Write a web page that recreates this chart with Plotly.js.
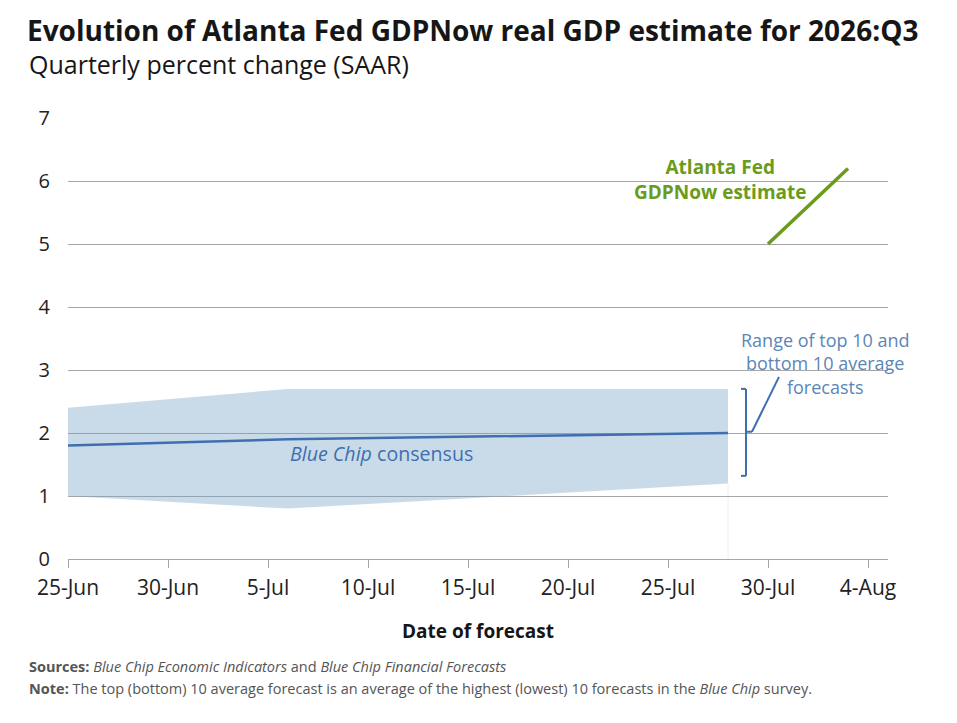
<!DOCTYPE html>
<html>
<head>
<meta charset="utf-8">
<script src="https://cdn.plot.ly/plotly-3.0.1.min.js"></script>
<style>
  html, body { margin: 0; padding: 0; background: #ffffff; }
  #chart { width: 957px; height: 723px; }
</style>
</head>
<body>
<div id="chart"></div>
<script>
// ---- Data ----
const surveyDates   = ['2026-06-25', '2026-07-06', '2026-07-28'];
const consensus     = [1.8, 1.9, 2.0];
const top10Avg      = [2.4, 2.7, 2.7];
const bottom10Avg   = [1.0, 0.8, 1.2];

const gdpNowDates   = ['2026-07-30', '2026-08-03'];
const gdpNowValues  = [5.0, 6.2];

const tickDates  = ['2026-06-25','2026-06-30','2026-07-05','2026-07-10','2026-07-15','2026-07-20','2026-07-25','2026-07-30','2026-08-04'];
const tickLabels = ['25-Jun','30-Jun','5-Jul','10-Jul','15-Jul','20-Jul','25-Jul','30-Jul','4-Aug'];
const yTicks     = [0, 1, 2, 3, 4, 5, 6, 7];

// ---- Styles ----
const gridCol   = '#a6a6a6';
const bandFill  = 'rgba(120,165,200,0.4)';
const blueLine  = '#3f6fae';
const greenLine = '#6a9b1a';
const rangeBlue = '#5a86b8';
const baseFont  = '"Open Sans", Roboto, sans-serif';

const traces = [
  {
    x: surveyDates, y: bottom10Avg, type: 'scatter', mode: 'lines',
    line: { width: 0, color: 'rgba(0,0,0,0)' }, hoverinfo: 'skip', showlegend: false
  },
  {
    x: surveyDates, y: top10Avg, type: 'scatter', mode: 'lines',
    fill: 'tonexty', fillcolor: bandFill,
    line: { width: 0, color: 'rgba(0,0,0,0)' }, hoverinfo: 'skip', showlegend: false
  },
  {
    x: surveyDates, y: consensus, type: 'scatter', mode: 'lines',
    line: { width: 2.5, color: blueLine }, showlegend: false
  },
  {
    x: gdpNowDates, y: gdpNowValues, type: 'scatter', mode: 'lines',
    line: { width: 3.5, color: greenLine }, showlegend: false
  }
];

const lastDate = surveyDates[surveyDates.length - 1];

// bracket helper points (annotation graphics)
const bL = '2026-07-28 15:36', bR = '2026-07-28 21:36', bN = '2026-07-29 04:48', bE = '2026-07-30 13:12';
const bracket = (x0, y0, x1, y1) => ({
  type: 'line', xref: 'x', yref: 'y', x0: x0, y0: y0, x1: x1, y1: y1,
  line: { color: blueLine, width: 2 }
});

const layout = {
  width: 957, height: 723,
  paper_bgcolor: '#ffffff', plot_bgcolor: '#ffffff',
  margin: { l: 68, r: 69, t: 118, b: 164 },
  font: { family: baseFont, color: '#222222' },
  title: {
    text: '<b>Evolution of Atlanta Fed GDPNow real GDP estimate for 2026:Q3</b>',
    font: { family: baseFont, size: 28, color: '#161616' },
    xref: 'container', yref: 'container',
    x: 27/957, xanchor: 'left', y: 1 - 31/723, yanchor: 'middle'
  },
  xaxis: {
    type: 'date',
    range: ['2026-06-25', '2026-08-05'],
    tickmode: 'array', tickvals: tickDates, ticktext: tickLabels,
    tickfont: { family: baseFont, size: 21, color: '#222222' },
    ticks: 'outside', ticklen: 8, tickcolor: gridCol, tickwidth: 1,
    ticklabelstandoff: 2,
    showline: true, linecolor: gridCol, linewidth: 1,
    showgrid: false, zeroline: false, fixedrange: true,
    title: {
      text: '<b>Date of forecast</b>',
      font: { family: baseFont, size: 19, color: '#161616' },
      standoff: 24
    }
  },
  yaxis: {
    range: [0, 7],
    tickmode: 'array', tickvals: yTicks,
    tickfont: { family: baseFont, size: 20, color: '#222222' },
    ticks: '', ticklabelstandoff: 17,
    showgrid: true, gridcolor: gridCol, gridwidth: 1,
    zeroline: false, showline: false, fixedrange: true
  },
  shapes: [
    { type: 'line', xref: 'x', yref: 'y', x0: lastDate, x1: lastDate, y0: 0, y1: 1.2,
      line: { color: '#f0f0f0', width: 1 }, layer: 'below' },
    bracket(bL, 2.70, bR, 2.70),
    bracket(bR, 2.70, bR, 1.32),
    bracket(bR, 1.32, bL, 1.32),
    bracket(bR, 2.02, bN, 2.02),
    bracket(bN, 2.02, bE, 2.89)
  ],
  annotations: [
    { xref: 'paper', yref: 'paper', x: (27 - 68) / 820, y: (559 - 64) / 441,
      xanchor: 'left', yanchor: 'middle', showarrow: false,
      text: 'Quarterly percent change (SAAR)',
      font: { family: baseFont, size: 25, color: '#161616' } },
    { xref: 'x', yref: 'y', x: '2026-07-27 14:24', y: 6.03,
      xanchor: 'center', yanchor: 'middle', showarrow: false, align: 'center',
      text: '<b>Atlanta Fed<br>GDPNow estimate</b>',
      font: { family: baseFont, size: 19, color: greenLine } },
    { xref: 'x', yref: 'y', x: '2026-08-01 20:24', y: 3.11,
      xanchor: 'center', yanchor: 'middle', showarrow: false, align: 'center',
      text: 'Range of top 10 and<br>bottom 10 average<br>forecasts',
      font: { family: baseFont, size: 18, color: rangeBlue } },
    { xref: 'x', yref: 'y', x: '2026-07-06', y: 1.67,
      xanchor: 'left', yanchor: 'middle', showarrow: false,
      text: '<i>Blue Chip</i> consensus',
      font: { family: baseFont, size: 19.6, color: blueLine } },
    { xref: 'paper', yref: 'paper', x: (27 - 68) / 820, y: (559 - 666) / 441,
      xanchor: 'left', yanchor: 'middle', showarrow: false, align: 'left',
      text: '<b>Sources:</b> <i>Blue Chip Economic Indicators</i> and <i>Blue Chip Financial Forecasts</i>',
      font: { family: baseFont, size: 14.5, color: '#555555' } },
    { xref: 'paper', yref: 'paper', x: (27 - 68) / 820, y: (559 - 688) / 441,
      xanchor: 'left', yanchor: 'middle', showarrow: false, align: 'left',
      text: '<b>Note:</b> The top (bottom) 10 average forecast is an average of the highest (lowest) 10 forecasts in the <i>Blue Chip</i> survey.',
      font: { family: baseFont, size: 14.5, color: '#555555' } }
  ]
};

Plotly.newPlot('chart', traces, layout, { displayModeBar: false, staticPlot: true });
</script>
</body>
</html>
